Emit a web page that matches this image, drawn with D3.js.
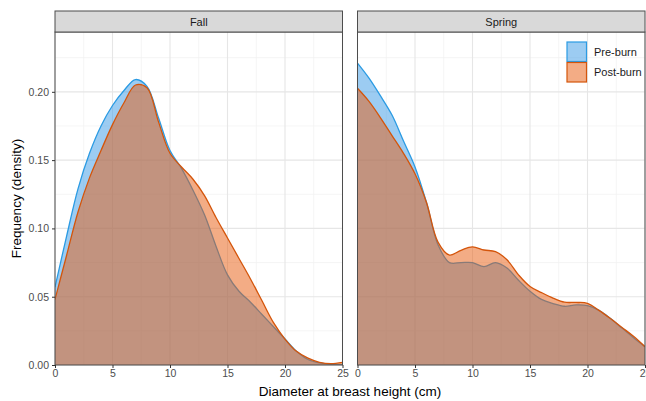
<!DOCTYPE html>
<html><head><meta charset="utf-8">
<script src="https://cdn.jsdelivr.net/npm/d3@7"></script>
<style>
html,body{margin:0;padding:0;background:#fff;}
svg{display:block;font-family:"Liberation Sans",Arial,sans-serif;}
</style></head>
<body>
<svg id="chart" width="646" height="401"></svg>
<script>
// ---- data ----
const panels = ["Fall", "Spring"];
const seriesNames = ["Pre-burn", "Post-burn"];
const diameters = [0,1,2,3,4,5,6,7,8,9,10,11,12,13,14,15,16,17,18,19,20,21,22,23,24,25];
const fallPre  = [0.057,0.094,0.129,0.155,0.175,0.190,0.201,0.209,0.204,0.181,0.157,0.144,0.128,0.110,0.087,0.066,0.054,0.046,0.037,0.028,0.019,0.010,0.004,0.0015,0.0005,0.0003];
const fallPost = [0.048,0.080,0.112,0.137,0.157,0.176,0.192,0.205,0.203,0.178,0.155,0.145,0.136,0.124,0.108,0.093,0.078,0.063,0.047,0.031,0.019,0.010,0.005,0.002,0.001,0.002];
const springPre  = [0.221,0.210,0.197,0.183,0.164,0.145,0.119,0.088,0.075,0.075,0.075,0.072,0.075,0.071,0.062,0.054,0.048,0.045,0.043,0.044,0.0435,0.040,0.034,0.027,0.020,0.0134];
const springPost = [0.2026,0.193,0.181,0.168,0.155,0.140,0.119,0.090,0.0805,0.084,0.0865,0.0842,0.083,0.077,0.066,0.0575,0.053,0.049,0.046,0.0458,0.0452,0.040,0.034,0.0275,0.021,0.0134];
const xTicks = [0,5,10,15,20,25];
const yTicks = [0,0.05,0.10,0.15,0.20];
const yTickLabels = ["0.00","0.05","0.10","0.15","0.20"];

const panelData = {
  "Fall":   [fallPre, fallPost],
  "Spring": [springPre, springPost]
};

// ---- style ----
const fillColors = ["#3a9ae6", "#e8590c"];
const strokeColors = ["#2b9be3", "#d4550b"];
const fillOpacity = 0.5;

const svg = d3.select("#chart");
const plotTop = 32, plotBottom = 365;
const panelX = [[55, 342.5], [357.5, 645]];
const stripTop = 11;

const y = d3.scaleLinear().domain([0, 0.2438]).range([plotBottom, plotTop]);

panels.forEach((name, pi) => {
  const [x0, x1] = panelX[pi];
  const x = d3.scaleLinear().domain([0, 25]).range([x0, x1]);
  const g = svg.append("g");

  const cid = "clip" + pi;
  svg.append("clipPath").attr("id", cid).append("rect")
    .attr("x", x0).attr("y", plotTop).attr("width", x1 - x0).attr("height", plotBottom - plotTop);

  // minor grid
  const xMinor = [2.5, 7.5, 12.5, 17.5, 22.5];
  const yMinor = [0.025, 0.075, 0.125, 0.175, 0.225];
  g.selectAll(".xminor").data(xMinor).enter().append("line")
    .attr("x1", d => x(d)).attr("x2", d => x(d)).attr("y1", plotTop).attr("y2", plotBottom)
    .attr("stroke", "#f2f2f2").attr("stroke-width", 0.8);
  g.selectAll(".yminor").data(yMinor).enter().append("line")
    .attr("y1", d => y(d)).attr("y2", d => y(d)).attr("x1", x0).attr("x2", x1)
    .attr("stroke", "#f2f2f2").attr("stroke-width", 0.8);
  // major grid
  g.selectAll(".xmajor").data(xTicks).enter().append("line")
    .attr("x1", d => x(d)).attr("x2", d => x(d)).attr("y1", plotTop).attr("y2", plotBottom)
    .attr("stroke", "#e6e6e6").attr("stroke-width", 1.1);
  g.selectAll(".ymajor").data(yTicks).enter().append("line")
    .attr("y1", d => y(d)).attr("y2", d => y(d)).attr("x1", x0).attr("x2", x1)
    .attr("stroke", "#e6e6e6").attr("stroke-width", 1.1);

  const curve = d3.curveCatmullRom.alpha(0.5);
  const area = d3.area().x((d, i) => x(diameters[i])).y0(y(0)).y1(d => y(d)).curve(curve);
  const line = d3.line().x((d, i) => x(diameters[i])).y(d => y(d)).curve(curve);

  const dg = g.append("g").attr("clip-path", `url(#${cid})`);
  panelData[name].forEach((vals, si) => {
    dg.append("path").attr("d", area(vals))
      .attr("fill", fillColors[si]).attr("fill-opacity", fillOpacity).attr("stroke", "none");
    dg.append("path").attr("d", line(vals))
      .attr("fill", "none").attr("stroke", strokeColors[si]).attr("stroke-width", 1.3);
  });

  // panel border
  g.append("rect").attr("x", x0).attr("y", plotTop).attr("width", x1 - x0).attr("height", plotBottom - plotTop)
    .attr("fill", "none").attr("stroke", "#4d4d4d").attr("stroke-width", 1);

  // strip
  g.append("rect").attr("x", x0).attr("y", stripTop).attr("width", x1 - x0).attr("height", plotTop - stripTop)
    .attr("fill", "#d9d9d9").attr("stroke", "#4d4d4d").attr("stroke-width", 1);
  g.append("text").attr("x", (x0 + x1) / 2).attr("y", (stripTop + plotTop) / 2 + 4)
    .attr("text-anchor", "middle").attr("font-size", 11).attr("fill", "#1a1a1a").text(name);

  // x axis
  const xAxis = d3.axisBottom(x).tickValues(xTicks).tickSize(3).tickPadding(2).tickFormat(d3.format("d"));
  const xa = g.append("g").attr("transform", `translate(0,${plotBottom})`).call(xAxis);
  xa.select(".domain").remove();
  xa.selectAll(".tick line").attr("stroke", "#333");
  xa.selectAll(".tick text").attr("font-size", 10.5).attr("fill", "#4d4d4d")
    .attr("font-family", "Liberation Sans, Arial, sans-serif");

  if (pi === 0) {
    const yAxis = d3.axisLeft(y).tickValues(yTicks).tickSize(3).tickPadding(3)
      .tickFormat((d, i) => yTickLabels[i]);
    const ya = g.append("g").attr("transform", `translate(${x0},0)`).call(yAxis);
    ya.select(".domain").remove();
    ya.selectAll(".tick line").attr("stroke", "#333");
    ya.selectAll(".tick text").attr("font-size", 10.5).attr("fill", "#4d4d4d")
      .attr("font-family", "Liberation Sans, Arial, sans-serif");
  } else {
    const lg = g.append("g");
    const kx = 566.5, ky = 41.5, ks = 20.5;
    seriesNames.forEach((s, si) => {
      lg.append("rect").attr("x", kx + 0.5).attr("y", ky + si * ks + 0.5).attr("width", ks - 1).attr("height", ks - 1)
        .attr("fill", fillColors[si]).attr("fill-opacity", fillOpacity)
        .attr("stroke", strokeColors[si]).attr("stroke-width", 1.2);
      lg.append("text").attr("x", 594).attr("y", ky + si * ks + ks / 2 + 4)
        .attr("font-size", 11).attr("fill", "#1a1a1a").text(s);
    });
  }
});

// axis titles
svg.append("text").attr("x", 350).attr("y", 396).attr("text-anchor", "middle")
  .attr("font-size", 13.5).attr("fill", "#000").text("Diameter at breast height (cm)");
svg.append("text").attr("transform", `translate(21,${(plotTop + plotBottom) / 2}) rotate(-90)`)
  .attr("text-anchor", "middle").attr("font-size", 13.5).attr("fill", "#000").text("Frequency (density)");
</script>
</body></html>
